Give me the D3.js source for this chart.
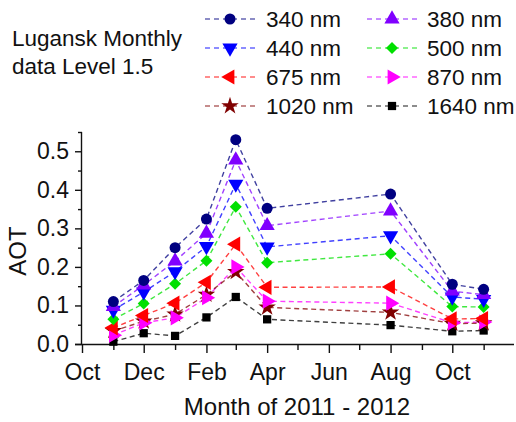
<!DOCTYPE html>
<html>
<head>
<meta charset="utf-8">
<script src="https://cdn.jsdelivr.net/npm/d3@7"></script>
<style>
  body { margin: 0; background: #fff; }
  text { font-family: Arial, "Liberation Sans", sans-serif; fill: #111; }
</style>
</head>
<body>
<div class="chart"></div>
<script>
// Month of each observation (2011 - 2012)
const months = ["2011-11", "2011-12", "2012-01", "2012-02", "2012-03", "2012-04", "2012-08", "2012-10", "2012-11"];

// AOT per wavelength
const aot340 = [0.110, 0.165, 0.250, 0.324, 0.530, 0.352, 0.389, 0.155, 0.142];
const aot380 = [0.097, 0.153, 0.215, 0.287, 0.477, 0.307, 0.345, 0.137, 0.128];
const aot440 = [0.088, 0.135, 0.188, 0.253, 0.415, 0.252, 0.281, 0.122, 0.116];
const aot500 = [0.064, 0.105, 0.156, 0.216, 0.356, 0.211, 0.234, 0.097, 0.096];
const aot675 = [0.042, 0.074, 0.106, 0.160, 0.259, 0.147, 0.148, 0.065, 0.066];
const aot870 = [0.023, 0.055, 0.068, 0.120, 0.200, 0.111, 0.106, 0.055, 0.057];
const aot1020 = [0.034, 0.059, 0.077, 0.128, 0.187, 0.095, 0.082, 0.053, 0.054];
const aot1640 = [0.006, 0.028, 0.021, 0.069, 0.122, 0.064, 0.049, 0.033, 0.035];

const yTicks = [0.0, 0.1, 0.2, 0.3, 0.4, 0.5];
const xTickLabels = ["Oct", "Dec", "Feb", "Apr", "Jun", "Aug", "Oct"];

const parseMonth = d3.timeParse("%Y-%m");

const series = [
  { name: "340 nm", values: aot340, color: "#000080", symbol: d3.symbolCircle, size: 95, rot: 0 },
  { name: "380 nm", values: aot380, color: "#8000ff", symbol: d3.symbolTriangle, size: 100, rot: 0 },
  { name: "440 nm", values: aot440, color: "#0000ff", symbol: d3.symbolTriangle, size: 100, rot: 180 },
  { name: "500 nm", values: aot500, color: "#00e000", symbol: d3.symbolSquare, size: 72, rot: 45 },
  { name: "675 nm", values: aot675, color: "#ff0000", symbol: d3.symbolTriangle, size: 100, rot: -90 },
  { name: "870 nm", values: aot870, color: "#ff00ff", symbol: d3.symbolTriangle, size: 100, rot: 90 },
  { name: "1020 nm", values: aot1020, color: "#800000", symbol: d3.symbolStar, size: 95, rot: 0 },
  { name: "1640 nm", values: aot1640, color: "#000000", symbol: d3.symbolSquare, size: 68, rot: 0 },
];

const W = 516, H = 422;
const plot = { left: 82, right: 514, top: 132, bottom: 344 };

const svg = d3.select(".chart").append("svg").attr("width", W).attr("height", H);

const x = d3.scaleTime()
  .domain([parseMonth("2011-10"), parseMonth("2012-12")])
  .range([plot.left, plot.right]);

const y = d3.scaleLinear().domain([0, 0.55]).range([plot.bottom, plot.top]);

// Axes
const majorX = d3.timeMonth.range(parseMonth("2011-10"), parseMonth("2012-11"), 2);
const minorX = d3.timeMonth.range(parseMonth("2011-11"), parseMonth("2012-12"), 2);

const xAxis = svg.append("g")
  .attr("transform", `translate(0,${plot.bottom})`)
  .call(d3.axisBottom(x).tickValues(majorX).tickSize(8).tickPadding(12)
    .tickFormat((d, i) => xTickLabels[i]));
xAxis.selectAll(".tick line").attr("y2", 9);
xAxis.select(".domain").attr("d", `M${plot.left - 7},0.5H${plot.right}`);

svg.append("g")
  .attr("transform", `translate(0,${plot.bottom})`)
  .call(d3.axisBottom(x).tickValues(minorX).tickSize(6).tickFormat(""))
  .select(".domain").remove();

const yAxis = svg.append("g")
  .attr("transform", `translate(${plot.left},0)`)
  .call(d3.axisLeft(y).tickValues(yTicks).tickSize(7).tickPadding(6).tickFormat(d3.format(".1f")));
yAxis.select(".domain").attr("d", `M-0.5,${plot.top}V${plot.bottom}`);

svg.append("g")
  .attr("transform", `translate(${plot.left},0)`)
  .call(d3.axisLeft(y).tickValues(d3.range(0.05, 0.56, 0.1)).tickSize(4).tickFormat(""))
  .select(".domain").remove();

svg.selectAll(".tick line").attr("stroke", "#111").attr("stroke-width", 1.4);
svg.selectAll(".domain").attr("stroke", "#111").attr("stroke-width", 1.4);
svg.selectAll(".tick text").attr("font-size", 23).attr("fill", "#111");

// Axis titles
svg.append("text")
  .attr("x", 297)
  .attr("y", 415)
  .attr("text-anchor", "middle")
  .attr("font-size", 24)
  .text("Month of 2011 - 2012");

svg.append("text")
  .attr("transform", "rotate(-90)")
  .attr("x", -251)
  .attr("y", 26)
  .attr("text-anchor", "middle")
  .attr("font-size", 24)
  .text("AOT");

// Series
const line = d3.line()
  .x((d, i) => x(parseMonth(months[i])))
  .y((d) => y(d));

series.forEach((s) => {
  svg.append("path")
    .datum(s.values)
    .attr("fill", "none")
    .attr("stroke", s.color)
    .attr("stroke-opacity", 0.75)
    .attr("stroke-width", 1.4)
    .attr("stroke-dasharray", "5 3.5")
    .attr("d", line);
});

series.slice().reverse().forEach((s) => {
  svg.selectAll(null)
    .data(s.values)
    .enter()
    .append("path")
    .attr("d", d3.symbol().type(s.symbol).size(s.size))
    .attr("transform", (d, i) => `translate(${x(parseMonth(months[i]))},${y(d)}) rotate(${s.rot})`)
    .attr("fill", s.color);
});

// Title
svg.append("text").attr("x", 12).attr("y", 46).attr("font-size", 22.5).text("Lugansk Monthly");
svg.append("text").attr("x", 12).attr("y", 74).attr("font-size", 22.5).text("data Level 1.5");

// Legend
const legend = svg.append("g");
series.forEach((s, i) => {
  const col = i % 2, row = Math.floor(i / 2);
  const cx = col === 0 ? 230 : 392;
  const cy = 19 + row * 29;
  const g = legend.append("g");
  g.append("line")
    .attr("x1", cx - 25).attr("x2", cx + 27)
    .attr("y1", cy).attr("y2", cy)
    .attr("stroke", s.color).attr("stroke-opacity", 0.6)
    .attr("stroke-width", 1.3).attr("stroke-dasharray", "5 4");
  g.append("path")
    .attr("d", d3.symbol().type(s.symbol).size(s.size))
    .attr("transform", `translate(${cx},${cy}) rotate(${s.rot})`)
    .attr("fill", s.color);
  g.append("text")
    .attr("x", col === 0 ? 266 : 427)
    .attr("y", cy + 8)
    .attr("font-size", 22.5)
    .text(s.name);
});
</script>
</body>
</html>
